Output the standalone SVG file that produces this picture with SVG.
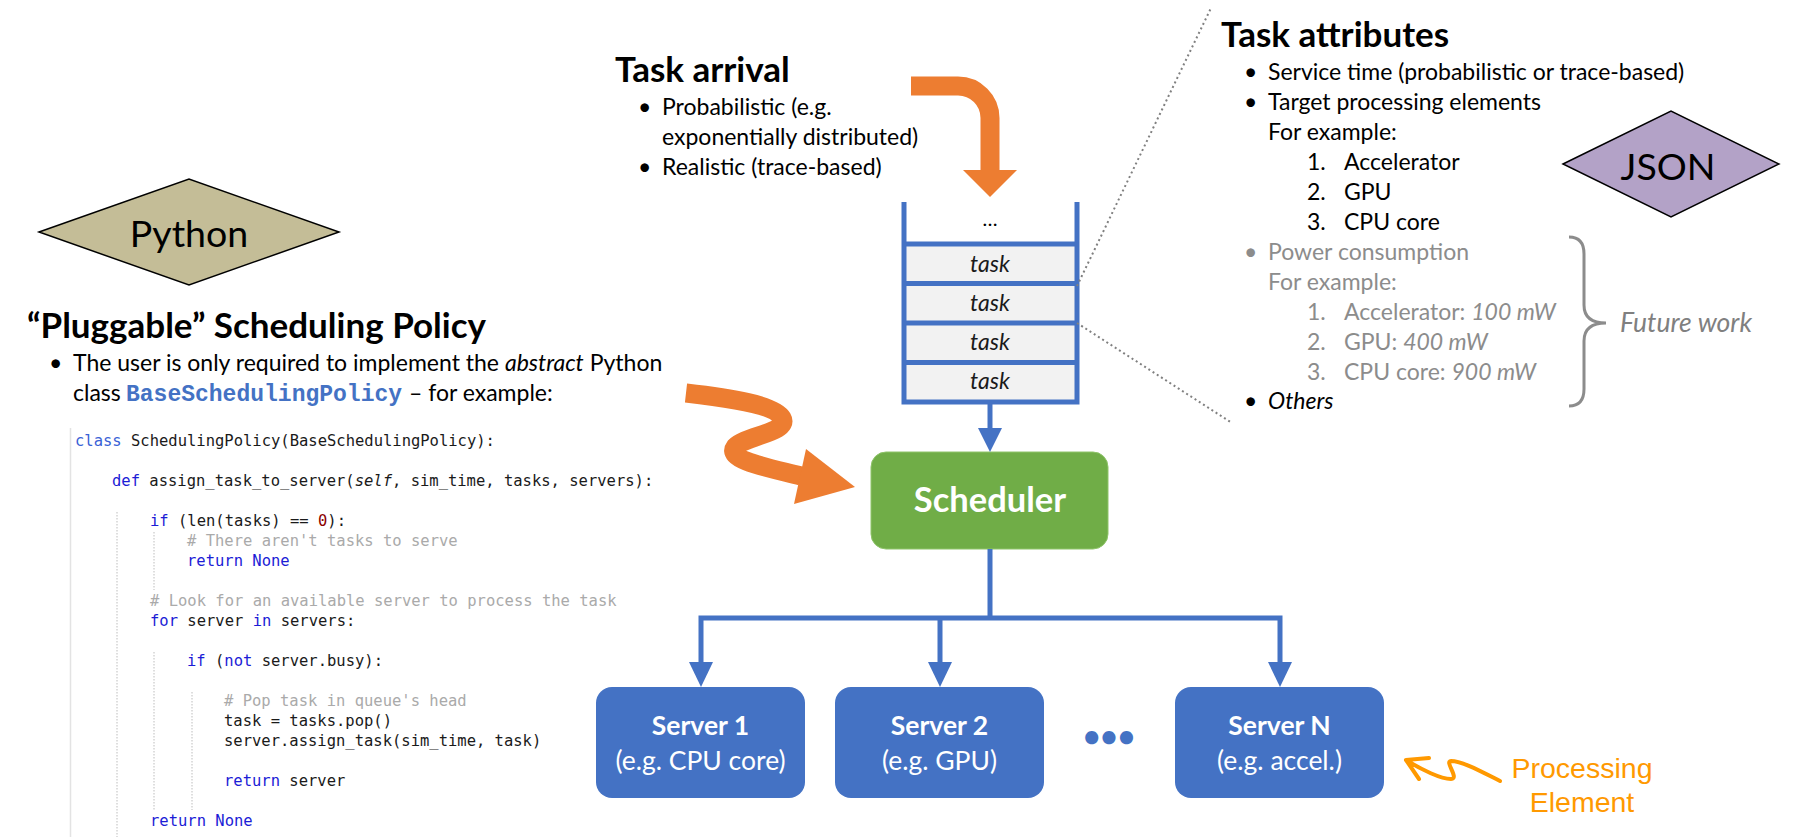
<svg xmlns="http://www.w3.org/2000/svg" width="1802" height="837" viewBox="0 0 1802 837">
<style>
.t{font-family:Lato,"Noto Sans","Liberation Sans",sans-serif;fill:#000}
.h{font-size:35px;font-weight:bold}
.b{font-size:23px}
.g{fill:#8c8c8c}
.i{font-style:italic}
.code{font-family:"DejaVu Sans Mono","Liberation Mono",monospace;font-size:15.5px;fill:#1a1a1a}
.kw{fill:#1c1cd6}
.kw2{fill:#3a62d6}
.cm{fill:#aaaaaa}
.num{fill:#8b0000}
.guide{stroke:#bdbdbd;stroke-width:1;stroke-dasharray:1.5 1.5;fill:none}
.conn{stroke:#4472C4;stroke-width:5;fill:none}
.ah{fill:#4472C4}
.srv{fill:#4472C4}
.st1{font-family:Lato,"Noto Sans",sans-serif;font-size:26.5px;font-weight:bold;fill:#fff}
.st2{font-family:Lato,"Noto Sans",sans-serif;font-size:26.5px;fill:#fff}
.orange{stroke:#ED7D31;stroke-width:19;fill:none}
.dot{stroke:#808080;stroke-width:2;stroke-dasharray:2 3;fill:none}
.task{font-family:Lato,"Noto Sans",sans-serif;font-size:23px;font-style:italic;fill:#1a1a1a}
</style>

<g id="python-diamond">
<polygon points="39,232 189,179 339,232 189,285" fill="#C4BD97" stroke="#000" stroke-width="1.5"/>
<text class="t" x="189" y="247" font-size="37.5" text-anchor="middle">Python</text>
</g>

<g id="json-diamond">
<polygon points="1563,164 1671,111 1779,164 1671,217" fill="#B3A2C7" stroke="#000" stroke-width="1.5"/>
<text class="t" x="1668" y="180" font-size="37.5" text-anchor="middle">JSON</text>
</g>

<g id="policy-text">
<text class="t h" x="27" y="338">“Pluggable” Scheduling Policy</text>
<text class="t b" x="49" y="371">•</text>
<text class="t b" x="73" y="371">The user is only required to implement the <tspan class="i">abstract</tspan> Python</text>
<text class="t b" x="73" y="401">class</text>
<text x="126" y="401" font-family="'Liberation Mono','DejaVu Sans Mono',monospace" font-size="23" font-weight="bold" fill="#4472C4">BaseSchedulingPolicy</text>
<text class="t b" x="409" y="401">– for example:</text>
</g>

<g id="code">
<line x1="70.5" y1="428" x2="70.5" y2="837" stroke="#e3e3e3" stroke-width="1.5"/>
<path class="guide" d="M117,512V837 M154,532V590 M154,652V810 M192,692V810"/>
<text class="code" xml:space="preserve" x="75" y="446"><tspan class="kw2">class</tspan> SchedulingPolicy(BaseSchedulingPolicy):</text>
<text class="code" xml:space="preserve" x="112" y="486"><tspan class="kw">def</tspan> assign_task_to_server(<tspan font-style="italic">self</tspan>, sim_time, tasks, servers):</text>
<text class="code" xml:space="preserve" x="150" y="526"><tspan class="kw">if</tspan> (len(tasks) == <tspan class="num">0</tspan>):</text>
<text class="code cm" xml:space="preserve" x="187" y="546"># There aren't tasks to serve</text>
<text class="code kw" xml:space="preserve" x="187" y="566">return None</text>
<text class="code cm" xml:space="preserve" x="150" y="606"># Look for an available server to process the task</text>
<text class="code" xml:space="preserve" x="150" y="626"><tspan class="kw">for</tspan> server <tspan class="kw">in</tspan> servers:</text>
<text class="code" xml:space="preserve" x="187" y="666"><tspan class="kw">if</tspan> (<tspan class="kw">not</tspan> server.busy):</text>
<text class="code cm" xml:space="preserve" x="224" y="706"># Pop task in queue's head</text>
<text class="code" xml:space="preserve" x="224" y="726">task = tasks.pop()</text>
<text class="code" xml:space="preserve" x="224" y="746">server.assign_task(sim_time, task)</text>
<text class="code" xml:space="preserve" x="224" y="786"><tspan class="kw">return</tspan> server</text>
<text class="code kw" xml:space="preserve" x="150" y="826">return None</text>
</g>

<g id="arrival-text">
<text class="t h" x="615" y="82">Task arrival</text>
<text class="t b" x="638" y="115">•</text>
<text class="t b" x="662" y="115">Probabilistic (e.g.</text>
<text class="t b" x="662" y="145">exponentially distributed)</text>
<text class="t b" x="638" y="175">•</text>
<text class="t b" x="662" y="175">Realistic (trace-based)</text>
</g>

<g id="attributes-text">
<text class="t h" x="1221" y="47">Task attributes</text>
<text class="t b" x="1244" y="80">•</text>
<text class="t b" x="1268" y="80">Service time (probabilistic or trace-based)</text>
<text class="t b" x="1244" y="110">•</text>
<text class="t b" x="1268" y="110">Target processing elements</text>
<text class="t b" x="1268" y="140">For example:</text>
<text class="t b" x="1307" y="170">1.</text><text class="t b" x="1344" y="170">Accelerator</text>
<text class="t b" x="1307" y="200">2.</text><text class="t b" x="1344" y="200">GPU</text>
<text class="t b" x="1307" y="230">3.</text><text class="t b" x="1344" y="230">CPU core</text>
<text class="t b g" x="1244" y="260">•</text>
<text class="t b g" x="1268" y="260">Power consumption</text>
<text class="t b g" x="1268" y="290">For example:</text>
<text class="t b g" x="1307" y="320">1.</text><text class="t b g" x="1344" y="320">Accelerator: <tspan class="i">100 mW</tspan></text>
<text class="t b g" x="1307" y="350">2.</text><text class="t b g" x="1344" y="350">GPU: <tspan class="i">400 mW</tspan></text>
<text class="t b g" x="1307" y="380">3.</text><text class="t b g" x="1344" y="380">CPU core: <tspan class="i">900 mW</tspan></text>
<text class="t b" x="1244" y="409">•</text>
<text class="t b i" x="1268" y="409">Others</text>
</g>

<g id="future-work">
<path d="M1569,237 Q1584,237 1584,254 V305 Q1584,323 1606,323 Q1584,323 1584,341 V389 Q1584,406 1569,406" fill="none" stroke="#8c8c8c" stroke-width="3"/>
<text class="t i" x="1620" y="332" font-size="26.5" fill="#808080" style="fill:#808080">Future work</text>
</g>

<g id="queue">
<rect x="904" y="244" width="173" height="158" fill="#F2F2F2"/>
<path d="M904,202 V402 H1077 V202" fill="none" stroke="#4472C4" stroke-width="5"/>
<path d="M904,244 H1077 M904,283.5 H1077 M904,323 H1077 M904,362.5 H1077" stroke="#4472C4" stroke-width="5"/>
<text class="t" x="990" y="226" font-size="20" text-anchor="middle">…</text>
<text class="task" x="990" y="272" text-anchor="middle">task</text>
<text class="task" x="990" y="311" text-anchor="middle">task</text>
<text class="task" x="990" y="350" text-anchor="middle">task</text>
<text class="task" x="990" y="389" text-anchor="middle">task</text>
</g>

<g id="scheduler">
<rect x="871" y="452" width="237" height="97" rx="15" fill="#70AD47" stroke="#8fc46a" stroke-width="1"/>
<text x="990" y="512" text-anchor="middle" font-family="Lato,'Noto Sans',sans-serif" font-size="34.5" font-weight="bold" fill="#fff">Scheduler</text>
</g>

<g id="server1">
<rect class="srv" x="596" y="687" width="209" height="111" rx="16"/>
<text class="st1" x="700.5" y="735" text-anchor="middle">Server 1</text>
<text class="st2" x="700.5" y="770" text-anchor="middle">(e.g. CPU core)</text>
</g>
<g id="server2">
<rect class="srv" x="835" y="687" width="209" height="111" rx="16"/>
<text class="st1" x="939.5" y="735" text-anchor="middle">Server 2</text>
<text class="st2" x="939.5" y="770" text-anchor="middle">(e.g. GPU)</text>
</g>
<g id="serverN">
<rect class="srv" x="1175" y="687" width="209" height="111" rx="16"/>
<text class="st1" x="1279.5" y="735" text-anchor="middle">Server N</text>
<text class="st2" x="1279.5" y="770" text-anchor="middle">(e.g. accel.)</text>
</g>
<g id="ellipsis">
<text x="1109" y="747" text-anchor="middle" font-family="Lato,'Noto Sans',sans-serif" font-size="30" font-weight="bold" fill="#4472C4">•••</text>
</g>

<g id="processing-element">
<path d="M1500,781 C1482,772 1462,761 1451,761 C1444,761 1460,779 1451,779 C1441,779 1422,770 1406,760 M1406,760 L1429,758 M1406,760 L1419,779" fill="none" stroke="#FF9900" stroke-width="4" stroke-linecap="round" stroke-linejoin="round"/>
<text x="1582" y="778" text-anchor="middle" font-family="'Liberation Sans',Arial,sans-serif" font-size="28.5" fill="#FF9900">Processing</text>
<text x="1582" y="812" text-anchor="middle" font-family="'Liberation Sans',Arial,sans-serif" font-size="28.5" fill="#FF9900">Element</text>
</g>

<g id="connectors">
<path class="dot" d="M1077,286 L1211,8"/>
<path class="dot" d="M1077,323 L1232,423"/>
<path class="orange" d="M911,86 H958 A32,32 0 0 1 990,118 V172"/>
<polygon points="963,170 1017,170 990,197" fill="#ED7D31"/>
<path class="orange" d="M686,393 C730,398 775,405 782,418 C790,432 745,436 735,447 C725,460 770,468 801,476"/>
<polygon points="806,449 855,487 794,504" fill="#ED7D31"/>
<path class="conn" d="M990,402 V430"/>
<polygon class="ah" points="978,428 1002,428 990,452"/>
<path class="conn" d="M990,549 V618 M698.5,618 H1282.5 M701,618 V664 M940,618 V664 M1280,618 V664"/>
<polygon class="ah" points="689,662 713,662 701,687"/>
<polygon class="ah" points="928,662 952,662 940,687"/>
<polygon class="ah" points="1268,662 1292,662 1280,687"/>
</g>
</svg>
